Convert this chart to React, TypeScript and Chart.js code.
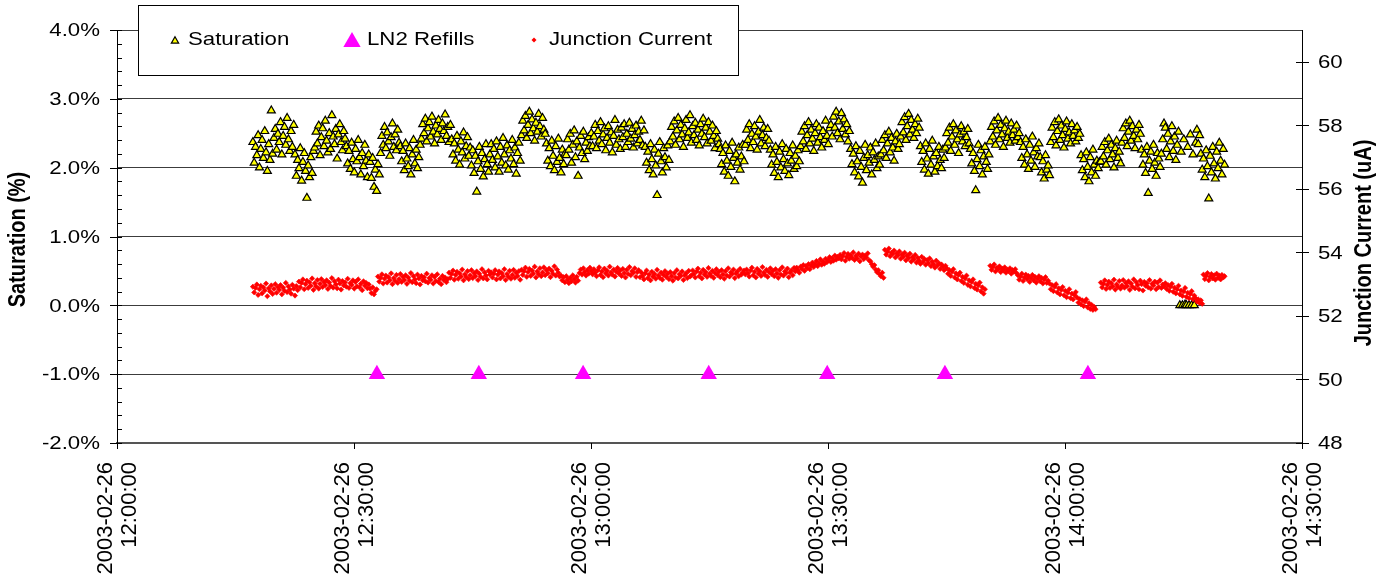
import React, { useEffect, useRef } from "react";
import { Chart, registerables } from "chart.js";

Chart.register(...registerables);

// ---------- data ----------
const DATE_LABEL = "2003-02-26";
const X_TICK_MINUTES = [0, 30, 60, 90, 120, 150]; // minutes after 12:00
const X_TICK_TIMES = ["12:00:00", "12:30:00", "13:00:00", "13:30:00", "14:00:00", "14:30:00"];
const LEFT_TICKS = [-2, -1, 0, 1, 2, 3, 4];
const RIGHT_TICKS = [48, 50, 52, 54, 56, 58, 60];

// logger samples: first sample 12:17:12, one sample every 10 s
const SAMPLE_START_MIN = 17.2;
const SAMPLE_STEP_MIN = 1 / 6;

// Saturation (%)
const satA = [2.37, 2.07, 2.30, 2.18, 2.47, 2.00, 2.27, 2.40, 2.14, 2.53, 2.22, 1.95, 2.34, 2.11, 2.83, 2.20, 2.43,
  2.56, 2.26, 2.49, 2.37, 2.66, 2.19, 2.46, 2.59, 2.33, 2.72, 2.41, 2.24, 2.53, 2.30, 2.62,
  2.19, 1.88, 2.11, 1.99, 2.28, 1.81, 2.08, 2.21, 1.95, 1.56, 2.03, 1.86, 2.15, 1.92, 2.24,
  2.29, 2.52, 2.35, 2.61, 2.18, 2.44, 2.57, 2.31, 2.68, 2.39, 2.22, 2.50, 2.27, 2.76, 2.45, 2.34, 2.56, 2.13, 2.48, 2.63, 2.37, 2.25, 2.53, 2.42,
  2.31, 2.06, 2.24, 1.98, 2.36, 2.12, 1.93, 2.27, 2.09, 2.40, 2.15, 1.90, 2.21, 2.02, 2.33, 2.10, 1.86, 2.19,
  2.08, 1.85, 2.14, 1.72, 1.97, 1.66, 2.05, 1.90,
  2.21, 2.46, 2.33, 2.59, 2.28, 2.51, 2.38, 2.17, 2.44, 2.64, 2.30, 2.48, 2.25, 2.55, 2.36,
  2.31, 2.09, 2.24, 1.96, 2.35, 2.13, 2.02, 2.28, 1.90, 2.19, 2.40, 2.06, 2.26, 1.99, 2.15, 2.33,
  2.42, 2.63, 2.50, 2.71, 2.38, 2.57, 2.66, 2.45, 2.74, 2.52, 2.35, 2.61, 2.48, 2.69, 2.56, 2.40, 2.64, 2.53, 2.77, 2.46, 2.59, 2.37, 2.62,
  2.41, 2.19, 2.35, 2.10, 2.46, 2.26, 2.04, 2.38, 2.22, 2.51, 2.13, 2.31, 2.44, 2.17, 2.29,
  2.03, 2.25, 1.92, 2.17, 1.65, 2.09, 2.30, 1.98, 2.21, 1.87, 2.12, 2.34, 2.05, 1.94, 2.19];
const satB = [2.34, 2.11, 2.27, 2.00, 2.38, 2.16, 1.94, 2.30, 2.07, 2.43, 2.19, 2.03, 2.32, 1.97, 2.25, 2.13, 2.40, 2.05, 2.29, 1.91, 2.21, 2.36, 2.10,
  2.47, 2.68, 2.54, 2.75, 2.43, 2.62, 2.81, 2.50, 2.70, 2.57, 2.39, 2.65, 2.52, 2.78, 2.60, 2.45, 2.72, 2.55, 2.49,
  2.35, 2.10, 2.28, 2.02, 2.39, 2.17, 1.96, 2.31, 2.08, 2.42, 2.14, 1.93, 2.26, 2.05, 2.20,
  2.18, 2.41, 2.26, 2.49, 2.07, 2.33, 2.54, 2.15, 2.38, 1.88, 2.29, 2.46, 2.21, 2.52, 2.12, 2.36, 2.24, 2.44, 2.31,
  2.50, 2.31, 2.45, 2.62, 2.28, 2.53, 2.39, 2.66, 2.34, 2.48, 2.57, 2.25, 2.43, 2.60, 2.36, 2.51, 2.22, 2.46, 2.69, 2.33,
  2.55, 2.41, 2.27, 2.58, 2.44, 2.63, 2.30, 2.49, 2.37, 2.65, 2.42, 2.56, 2.29, 2.47, 2.61, 2.35, 2.52, 2.40, 2.68, 2.32, 2.54,
  2.30, 2.07, 2.23, 1.96, 2.34, 2.12, 1.90, 2.26, 2.03, 1.60, 2.20, 2.37, 2.09, 1.93, 2.28, 2.15, 2.00, 2.32, 2.11,
  2.38, 2.59, 2.45, 2.67, 2.33, 2.54, 2.72, 2.41, 2.62, 2.48, 2.30, 2.57, 2.69, 2.43, 2.51, 2.76, 2.36, 2.60, 2.47, 2.65,
  2.40, 2.55, 2.32, 2.63, 2.49, 2.71, 2.44, 2.58, 2.35, 2.66, 2.52, 2.39, 2.61, 2.46, 2.28, 2.53, 2.42, 2.34,
  2.27, 2.05, 2.21, 1.94, 2.32, 2.10, 1.88, 2.24, 2.01, 2.36, 2.14, 1.80, 2.19, 2.07, 2.29, 1.97, 2.16, 2.33, 2.09];
const satC = [2.33, 2.55, 2.40, 2.63, 2.28, 2.49, 2.37, 2.60, 2.45, 2.26, 2.52, 2.69, 2.35, 2.47, 2.58, 2.31, 2.43, 2.56, 2.39,
  2.26, 2.04, 2.19, 1.92, 2.30, 2.08, 1.86, 2.23, 2.00, 2.34, 2.12, 1.95, 2.27, 2.06, 1.89, 2.21, 2.10, 2.32, 1.98, 2.17, 2.02, 2.25, 2.09,
  2.31, 2.52, 2.38, 2.60, 2.27, 2.47, 2.66, 2.35, 2.55, 2.42, 2.24, 2.50, 2.63, 2.36, 2.58, 2.44, 2.29, 2.53, 2.40, 2.68, 2.46, 2.34, 2.57,
  2.62, 2.45, 2.74, 2.58, 2.81, 2.50, 2.67, 2.41, 2.79, 2.56, 2.70, 2.48, 2.63, 2.38, 2.53,
  2.27, 2.05, 2.20, 1.93, 2.31, 2.09, 1.87, 2.24, 2.01, 1.78, 2.14, 2.33, 1.96, 2.18, 2.07, 2.29, 1.90, 2.22, 2.11, 2.35, 1.99, 2.16, 2.04,
  2.19, 2.40, 2.25, 2.47, 2.14, 2.35, 2.52, 2.22, 2.43, 2.29, 2.10, 2.38, 2.49, 2.27, 2.34,
  2.45, 2.66, 2.51, 2.73, 2.40, 2.60, 2.78, 2.48, 2.69, 2.55, 2.43, 2.63, 2.50, 2.71, 2.58,
  2.31, 2.08, 2.24, 1.97, 2.35, 2.13, 1.91, 2.27, 2.04, 2.39, 2.16, 1.94, 2.21, 2.02, 2.30, 2.11, 1.99, 2.26, 2.14,
  2.29, 2.50, 2.36, 2.58, 2.24, 2.45, 2.63, 2.33, 2.54, 2.41, 2.21, 2.48, 2.60, 2.38, 2.52, 2.31, 2.44, 2.56, 2.35,
  2.27, 2.06, 2.21, 1.95, 1.67, 2.12, 2.33, 2.02, 2.25, 1.90, 2.16, 2.30, 2.08, 1.98, 2.19];
const satD = [2.38, 2.59, 2.45, 2.67, 2.33, 2.54, 2.72, 2.41, 2.62, 2.48, 2.30, 2.57, 2.68, 2.43, 2.52, 2.36, 2.64, 2.47, 2.55, 2.39, 2.61, 2.44, 2.50,
  2.37, 2.14, 2.30, 2.04, 2.41, 2.19, 1.98, 2.33, 2.10, 2.45, 2.22, 2.01, 2.28, 2.16, 2.35,
  2.15, 1.93, 2.09, 1.84, 2.18, 1.97, 2.03, 1.89,
  2.37, 2.58, 2.44, 2.66, 2.32, 2.53, 2.70, 2.40, 2.61, 2.47, 2.29, 2.56, 2.67, 2.42, 2.51, 2.35, 2.63, 2.46, 2.54, 2.38, 2.59, 2.43, 2.49,
  2.18, 1.96, 2.12, 1.86, 2.22, 2.01, 1.80, 2.15, 1.93, 2.26, 2.04, 1.88, 2.10, 1.99, 2.08,
  2.09, 2.30, 2.16, 2.37, 2.04, 2.25, 2.42, 2.12, 2.33, 2.19, 2.00, 2.28, 2.39, 2.14, 2.23, 2.06,
  2.36, 2.57, 2.43, 2.64, 2.31, 2.52, 2.68, 2.39, 2.60, 2.46, 2.28, 2.55, 2.41, 2.62, 2.49,
  2.26, 2.04, 2.19, 1.92, 2.30, 1.63, 2.10, 2.23, 1.98, 2.33, 2.07, 1.88, 2.21, 2.13, 2.01,
  2.20, 2.41, 2.64, 2.58, 2.27, 2.49, 2.15, 2.38, 2.60, 2.24, 2.45, 2.11, 2.33, 2.52,
  0.00, 2.23, 0.00, 2.41, 0.01, 0.00, 2.30, 0.00, 2.48, 0.00, 2.19, 0.00, 2.36,
  2.55, 2.34, 2.47,
  2.20, 1.97, 2.13, 1.86, 2.25, 2.02, 1.55, 2.17, 1.93, 2.30, 2.06, 1.84, 2.23, 1.99, 2.36, 2.10, 1.90, 2.27, 2.04];

// Junction Current (uA), null = no reading
const curA = [52.92, 52.74, 52.88, 52.99, 52.66, 52.84, 52.95, 52.71, 52.90, 52.80, 53.02, 52.62, 52.87, 52.77, 52.96, 52.69, 52.85, 53.00,
  52.73, 52.91, 52.82, 52.97, 52.68, 52.89, 52.79, 53.04, 52.75, 52.93, 52.83, 52.70, 52.98, 52.86, 52.64, 52.94, 52.81,
  53.08, 52.90, 53.04, 53.15, 52.84, 53.00, 53.11, 52.88, 53.06, 52.95, 53.18, 52.82, 53.03, 52.93, 53.13, 52.86, 53.01, 53.16,
  52.91, 53.07, 52.97, 53.12, 52.85, 53.05, 52.94, 53.19, 52.89, 53.09, 52.99, 52.87, 53.14, 53.02, 52.83, 53.10, 52.96, 53.06,
  52.92, 53.17, 52.88, 53.03, 52.98, 53.12, 52.86, 53.07, 52.93, 53.15, 52.90, 53.01, 52.81, 53.09, 52.95, 53.04, 52.87, 52.99,
  52.86, 52.72, 52.90, 52.68, 52.79, 52.84,
  53.24, 53.08, 53.20, 53.31, 53.02, 53.17, 53.27, 53.05, 53.22, 53.12, 53.34, 53.00, 53.19, 53.10, 53.29, 53.04, 53.16, 53.32,
  53.07, 53.23, 53.13, 53.28, 53.01, 53.21, 53.11, 53.35, 53.06, 53.25, 53.15, 53.03, 53.30, 53.18, 52.99, 53.26, 53.12, 53.22,
  53.09, 53.33, 53.05, 53.19, 53.14, 53.28, 53.02, 53.23, 53.10, 53.31, 53.07, 53.17, 53.00, 53.26, 53.13, 53.21, 53.06, 53.16,
  53.36, 53.20, 53.32, 53.43, 53.14, 53.29, 53.39, 53.17, 53.34, 53.24, 53.46, 53.12, 53.31, 53.22, 53.41, 53.16,
  53.28, 53.44, 53.19, 53.35, 53.25, 53.40, 53.13, 53.33, 53.23, 53.47, 53.18, 53.37, 53.27, 53.15, 53.42, 53.30];
const curB = [53.37, 53.21, 53.33, 53.44, 53.15, 53.30, 53.40, 53.18, 53.35, 53.25, 53.47, 53.13, 53.32, 53.23, 53.42, 53.17,
  53.29, 53.45, 53.20, 53.36, 53.26, 53.41, 53.14,
  53.45, 53.29, 53.41, 53.52, 53.23, 53.38, 53.48, 53.26, 53.43, 53.33, 53.55, 53.21, 53.40, 53.31, 53.50,
  53.25, 53.37, 53.53, 53.28, 53.44, 53.34, 53.49, 53.22, 53.42, 53.32, 53.56, 53.27, 53.46, 53.36, 53.24,
  53.27, 53.12, 53.22, 53.06, 53.25, 53.14, 53.03, 53.20, 53.09, 53.28, 53.16, 53.05, 53.23, 53.11,
  53.35, 53.46, 53.30, 53.50, 53.38, 53.27, 53.44, 53.33, 53.52, 53.41,
  53.31, 53.47, 53.36, 53.25, 53.44, 53.53, 53.29, 53.40, 53.22, 53.49, 53.34, 53.42, 53.27, 53.55, 53.37, 53.30, 53.46, 53.24,
  53.39, 53.51, 53.33, 53.43, 53.26, 53.48, 53.35, 53.21, 53.45, 53.32, 53.54, 53.28, 53.41, 53.36, 53.50, 53.23, 53.38, 53.44,
  53.22, 53.37, 53.26, 53.15, 53.34, 53.43, 53.19, 53.30, 53.12, 53.39, 53.24, 53.32, 53.17, 53.45, 53.27, 53.20, 53.36, 53.14, 53.29, 53.41,
  53.23, 53.33, 53.16, 53.38, 53.25, 53.11, 53.35, 53.21, 53.44, 53.18, 53.31, 53.26, 53.40, 53.13, 53.28, 53.34, 53.19, 53.42, 53.24,
  53.28, 53.43, 53.32, 53.21, 53.40, 53.49, 53.25, 53.36, 53.18, 53.45, 53.30, 53.38, 53.23, 53.51, 53.33, 53.26, 53.42, 53.20, 53.35, 53.47,
  53.29, 53.39, 53.22, 53.44, 53.31, 53.17, 53.41, 53.27, 53.50, 53.24, 53.37, 53.32, 53.46, 53.19, 53.34, 53.40, 53.25, 53.48, 53.30, 53.36, 53.43];
const curC = [53.31, 53.46, 53.35, 53.24, 53.43, 53.52, 53.28, 53.39, 53.21, 53.48, 53.33, 53.41, 53.26, 53.54, 53.36, 53.29, 53.45, 53.23, 53.38,
  53.50, 53.32, 53.42, 53.25, 53.47, 53.34, 53.20, 53.44, 53.30, 53.53, 53.27, 53.40, 53.35, 53.49, 53.22, 53.37, 53.43, 53.28, 53.51,
  53.40, 53.52, 53.44, 53.36, 53.55, 53.48, 53.60, 53.42, 53.57, 53.50, 53.63, 53.47, 53.58, 53.68, 53.54, 53.62, 53.73,
  53.57, 53.66, 53.78, 53.61, 53.71, 53.64, 53.80, 53.69, 53.76, 53.85, 53.70, 53.82, 53.74, 53.90, 53.77, 53.86, 53.81,
  53.92, 53.78, 53.88, 53.98, 53.74, 53.86, 53.95, 53.80, 53.91, 53.83, 54.00, 53.76, 53.89, 53.81, 53.96, 53.72, 53.87, 53.93,
  53.79, 53.90, 53.84, 53.97, 53.75,
  53.72, 53.63, 53.55, 53.60, 53.46, 53.38, 53.44, 53.31, 53.25, 53.36, 53.20,
  54.08, 53.93, 54.02, 54.12, 53.88, 53.99, 53.95, 54.06, 53.84, 53.97, 53.91, 54.03, 53.80, 53.94, 53.86, 53.99,
  53.75, 53.90, 53.82, 53.96, 53.71, 53.85, 53.78, 53.92, 53.68, 53.83, 53.74, 53.64, 53.86, 53.70, 53.79, 53.61,
  53.76, 53.66, 53.81, 53.57, 53.71, 53.63, 53.52, 53.74, 53.59, 53.66, 53.48, 53.62, 53.55, 53.44, 53.58,
  53.50, 53.33, 53.44, 53.26, 53.39, 53.47, 53.21, 53.34, 53.15, 53.29, 53.36, 53.10, 53.23, 53.04, 53.18,
  53.27, 52.98, 53.12, 52.93, 53.07, 53.15, 52.88, 53.01, 52.83, 52.96, 53.05, 52.77, 52.90, 52.70, 52.84,
  null, null, null];
const curD = [53.58, 53.45, 53.54, 53.62, 53.40, 53.51, 53.47, 53.56, 53.38, 53.49, 53.43, 53.53, 53.36, 53.46, 53.41, 53.50,
  53.33, 53.44, 53.39, 53.47, 53.35,
  53.28, 53.14, 53.24, 53.33, 53.10, 53.21, 53.30, 53.16, 53.26, 53.07, 53.19, 53.29, 53.12, 53.23, 53.05, 53.17,
  53.25, 53.09, 53.20, 53.02, 53.15, 53.22, 53.04, 53.11,
  53.02, 52.84, 52.97, 52.78, 52.92, 53.00, 52.74, 52.87, 52.68, 52.82, 52.91, 52.65, 52.79, 52.59, 52.73, 52.84,
  52.56, 52.70, 52.52, 52.66, 52.75,
  52.58, 52.42, 52.53, 52.36, 52.49, 52.31, 52.45, 52.52, 52.27, 52.40, 52.22, 52.35, 52.19, 52.28, 52.21,
  null, null, null,
  53.05, 52.90, 53.01, 53.12, 52.85, 52.98, 53.08, 52.88, 53.03, 52.93, 53.14, 52.83, 52.99, 52.91, 53.10, 52.86,
  52.96, 53.13, 52.89, 53.04, 52.94, 53.09, 52.82, 53.02, 52.92, 53.15, 52.87, 53.06, 52.97, 52.84, 53.11, 53.00,
  52.80, 53.07, 52.95, 53.03, 52.90, 53.13, 52.86, 53.01, 52.96, 53.08, 52.84, 53.05, 52.91, 53.12, 52.88, 52.99, 52.93,
  53.03, 52.85, 52.97, 52.79, 52.92, 53.01, 52.76, 52.89, 52.71, 52.84, 52.95, 52.68, 52.80, 52.63, 52.77, 52.88,
  52.60, 52.73, 52.56, 52.69, 52.78, 52.53, 52.64,
  52.56, 52.45, 52.52, 52.41, 52.49, 52.38,
  53.30, 53.16, 53.26, 53.35, 53.12, 53.23, 53.32, 53.18, 53.28, 53.14, 53.33, 53.20, 53.27, 53.15, 53.29, 53.21, 53.25];

// LN2 refills (minutes after 12:00) plotted at -1.0 %
const ln2Minutes = [32.9, 45.8, 59.0, 74.9, 89.9, 104.8, 122.9];
const ln2Values = [-1, -1, -1, -1, -1, -1, -1];

// ---------- styling ----------
const FONT = '"Liberation Sans", Arial, sans-serif';
const SX = 1.17; // horizontal stretch of the original picture's text
const GRID = "#3c3c3c";

function toPoints(vals: (number | null)[]) {
  const out: { x: number; y: number }[] = [];
  vals.forEach((v, i) => {
    if (v !== null) out.push({ x: SAMPLE_START_MIN + i * SAMPLE_STEP_MIN, y: v });
  });
  return out;
}

function text(ctx: CanvasRenderingContext2D, s: string, x: number, y: number, align: CanvasTextAlign, font: string, rotate = false, sx = SX) {
  ctx.save();
  ctx.translate(x, y);
  ctx.scale(sx, 1);
  if (rotate) ctx.rotate(-Math.PI / 2);
  ctx.font = font;
  ctx.textAlign = align;
  ctx.textBaseline = "middle";
  ctx.fillStyle = "#000";
  ctx.fillText(s, 0, 0);
  ctx.restore();
}

function triangle(ctx: CanvasRenderingContext2D, x: number, y: number, r: number, fill: string, stroke: string | null) {
  ctx.beginPath();
  ctx.moveTo(x, y - r);
  ctx.lineTo(x + r * 0.866, y + r * 0.5);
  ctx.lineTo(x - r * 0.866, y + r * 0.5);
  ctx.closePath();
  ctx.fillStyle = fill;
  ctx.fill();
  if (stroke) {
    ctx.strokeStyle = stroke;
    ctx.lineWidth = 1.2;
    ctx.stroke();
  }
}

const decorPlugin = {
  id: "decor",
  afterDraw(chart: any) {
    const ctx: CanvasRenderingContext2D = chart.ctx;
    const { left, right, top, bottom } = chart.chartArea;
    const ys = chart.scales.y;
    const y1s = chart.scales.y1;
    const xs = chart.scales.x;
    ctx.save();
    ctx.strokeStyle = "#000";
    ctx.lineWidth = 1;
    ctx.beginPath();
    for (let i = LEFT_TICKS[0] * 5; i <= LEFT_TICKS[LEFT_TICKS.length - 1] * 5; i++) {
      const py = Math.round(ys.getPixelForValue(i / 5)) + 0.5;
      const major = i % 5 === 0;
      ctx.moveTo(major ? left - 7 : left, py);
      ctx.lineTo(left + 5, py);
    }
    for (const v of RIGHT_TICKS) {
      const py = Math.round(y1s.getPixelForValue(v)) + 0.5;
      ctx.moveTo(right - 6, py);
      ctx.lineTo(right + 7, py);
    }
    for (const m of X_TICK_MINUTES) {
      const px = Math.round(xs.getPixelForValue(m)) + 0.5;
      ctx.moveTo(px, bottom);
      ctx.lineTo(px, bottom + 6);
    }
    ctx.stroke();

    const tickFont = `19px ${FONT}`;
    for (const v of LEFT_TICKS) {
      text(ctx, v.toFixed(1) + "%", left - 17, ys.getPixelForValue(v) + 1, "right", tickFont);
    }
    for (const v of RIGHT_TICKS) {
      text(ctx, String(v), right + 16, y1s.getPixelForValue(v) + 1, "left", tickFont);
    }
    const xFont = `22px ${FONT}`;
    const lh = 24;
    X_TICK_MINUTES.forEach((m, i) => {
      const px = xs.getPixelForValue(m);
      text(ctx, DATE_LABEL, px - lh / 2 + 1, bottom + 19, "right", xFont, true, 1);
      text(ctx, X_TICK_TIMES[i], px + lh / 2 + 1, bottom + 19, "right", xFont, true, 1);
    });

    const titleFont = `bold 20px ${FONT}`;
    text(ctx, "Saturation (%)", 19, (top + bottom) / 2 + 3, "center", titleFont, true);
    text(ctx, "Junction Current (uA)", 1365, 243, "center", titleFont, true);

    // legend
    ctx.fillStyle = "#fff";
    ctx.fillRect(138.5, 5.5, 600, 70);
    ctx.strokeStyle = "#000";
    ctx.lineWidth = 1;
    ctx.strokeRect(138.5, 5.5, 600, 70);
    const ds = chart.data.datasets;
    const ly = 40;
    triangle(ctx, 175, ly + 1, 4.2, "#FFFF00", "#000");
    text(ctx, ds[0].label, 188, ly, "left", tickFont);
    triangle(ctx, 352, ly + 2, 10, "#FF00FF", null);
    text(ctx, ds[1].label, 367, ly, "left", tickFont);
    ctx.beginPath();
    ctx.moveTo(534, ly - 2.5);
    ctx.lineTo(536.5, ly);
    ctx.lineTo(534, ly + 2.5);
    ctx.lineTo(531.5, ly);
    ctx.closePath();
    ctx.fillStyle = "#FF0000";
    ctx.fill();
    text(ctx, ds[2].label, 549, ly, "left", tickFont);
    ctx.restore();
  },
};

export default function App() {
  const ref = useRef<HTMLCanvasElement>(null);
  useEffect(() => {
    const sat = toPoints([...satA, ...satB, ...satC, ...satD]);
    const cur = toPoints([...curA, ...curB, ...curC, ...curD]);
    const ln2 = ln2Minutes.map((m, i) => ({ x: m, y: ln2Values[i] }));
    const chart = new Chart(ref.current!, {
      type: "scatter",
      data: {
        datasets: [
          {
            label: "Saturation",
            data: sat,
            yAxisID: "y",
            pointStyle: "triangle",
            pointRadius: 4.6,
            backgroundColor: "#FFFF00",
            borderColor: "#000000",
            borderWidth: 1.2,
            order: 2,
          },
          {
            label: "LN2 Refills",
            data: ln2,
            yAxisID: "y",
            pointStyle: "triangle",
            pointRadius: 9.5,
            backgroundColor: "#FF00FF",
            borderColor: "#FF00FF",
            borderWidth: 0,
            order: 1,
          },
          {
            label: "Junction Current",
            data: cur,
            yAxisID: "y1",
            pointStyle: "rectRot",
            pointRadius: 2.6,
            backgroundColor: "#FF0000",
            borderColor: "#FF0000",
            borderWidth: 0.6,
            order: 0,
          },
        ],
      },
      options: {
        animation: false,
        responsive: false,
        devicePixelRatio: 1,
        layout: { padding: { top: 30, left: 0, right: 0, bottom: 0 } },
        plugins: { legend: { display: false }, tooltip: { enabled: false } },
        scales: {
          x: {
            type: "linear",
            position: "bottom",
            min: 0,
            max: 150,
            ticks: { display: false, stepSize: 30 },
            grid: { display: false, drawTicks: false },
            border: { display: true, color: "#555555", width: 2 },
            afterFit: (s: any) => { s.height = 138; },
          },
          y: {
            position: "left",
            min: -2,
            max: 4,
            ticks: { display: false, stepSize: 1 },
            grid: {
              drawTicks: false,
              lineWidth: 1,
              color: (c: any) => (c.tick && c.tick.value === -2 ? "rgba(0,0,0,0)" : GRID),
            },
            border: { display: true, color: "#000000", width: 1 },
            afterFit: (s: any) => { s.width = 117; },
          },
          y1: {
            position: "right",
            min: 48,
            max: 61,
            ticks: { display: false, stepSize: 2 },
            grid: { display: false, drawOnChartArea: false, drawTicks: false },
            border: { display: true, color: "#000000", width: 1 },
            afterFit: (s: any) => { s.width = 88; },
          },
        },
      } as any,
      plugins: [decorPlugin],
    });
    return () => chart.destroy();
  }, []);
  return (
    <div style={{ position: "fixed", left: 0, top: 0, width: 1390, height: 581, background: "#fff" }}>
      <canvas ref={ref} width={1390} height={581} style={{ display: "block", width: 1390, height: 581 }} />
    </div>
  );
}
